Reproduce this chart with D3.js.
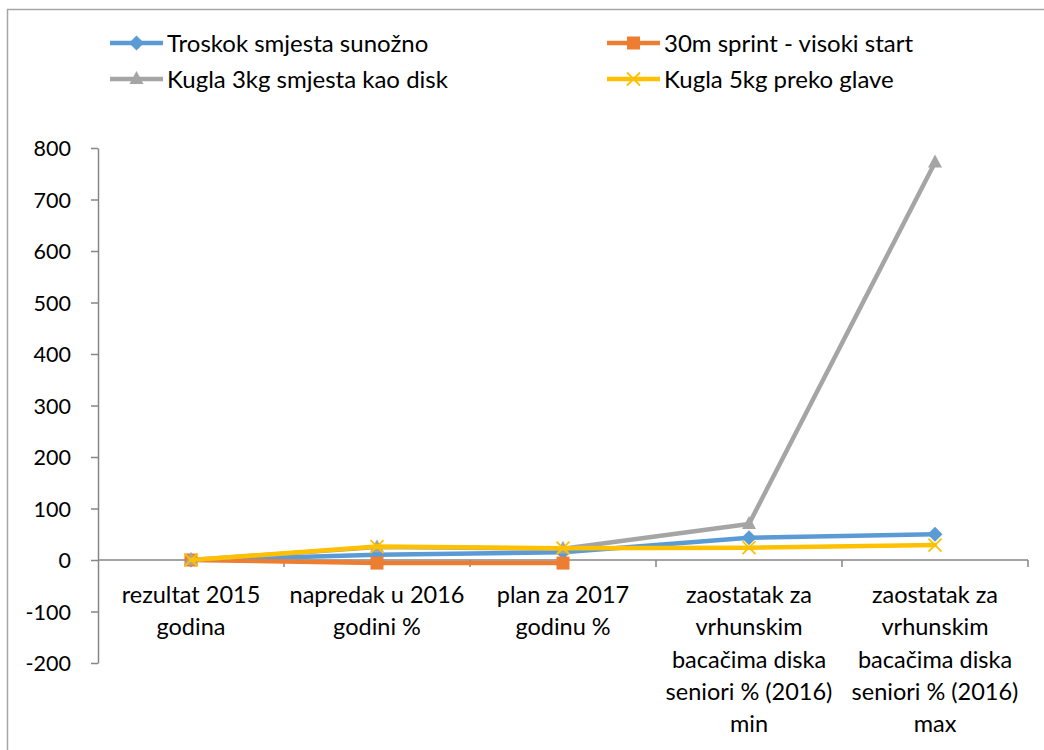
<!DOCTYPE html>
<html><head><meta charset="utf-8">
<script src="https://cdn.jsdelivr.net/npm/d3@7"></script>
<style>body{margin:0;background:#fff}svg{display:block}text{font-family:Lato,"Open Sans",sans-serif;fill:#000}</style>
</head><body>
<svg id="c" width="1044" height="750"></svg>
<script>
const categories = [
  ["rezultat 2015","godina"],
  ["napredak u 2016","godini %"],
  ["plan za 2017","godinu %"],
  ["zaostatak za","vrhunskim","bacačima diska","seniori % (2016)","min"],
  ["zaostatak za","vrhunskim","bacačima diska","seniori % (2016)","max"]
];
const seriesNames = ["Troskok smjesta sunožno","30m sprint - visoki start","Kugla 3kg smjesta kao disk","Kugla 5kg preko glave"];
const troskok = [0, 10, 15, 43, 50];
const sprint = [0, -6, -6, null, null];
const kugla3 = [0, 25, 22, 70, 772];
const kugla5 = [0, 26, 23, 24, 29];
const yTicks = [-200,-100,0,100,200,300,400,500,600,700,800];

const colors = ["#5b9bd5","#ed7d31","#a5a5a5","#ffc000"];
const symbols = ["diamond","square","triangle","x"];
const data = [troskok, sprint, kugla3, kugla5];

const svg = d3.select("#c");
svg.append("rect").attr("x",7.5).attr("y",9.5).attr("width",1100).attr("height",800)
  .attr("fill","none").attr("stroke","#a6a6a6").attr("stroke-width",1.5);

const x = d3.scaleBand().domain(d3.range(categories.length)).range([98,1028]);
const y = d3.scaleLinear().domain([-200,800]).range([663,148]);

// y axis
const yAxis = svg.append("g").attr("transform","translate(98,0)")
  .call(d3.axisLeft(y).tickValues(yTicks).tickFormat(d=>String(d)).tickSize(7).tickPadding(20).tickSizeOuter(0));
yAxis.select(".domain").attr("stroke","#868686").attr("stroke-width",1.5);
yAxis.selectAll(".tick line").attr("stroke","#868686").attr("stroke-width",1.5);
yAxis.selectAll(".tick text").attr("font-size",21.5).attr("font-family","Lato").attr("fill","#000").attr("dy","0.36em");

// x axis at zero
const xg = svg.append("g").attr("transform",`translate(0,${y(0)})`);
xg.append("line").attr("x1",98).attr("x2",1028).attr("stroke","#868686").attr("stroke-width",1.5);
const bounds = d3.range(categories.length+1).map(i => i < categories.length ? x(i) : x(i-1)+x.bandwidth());
xg.selectAll("line.t").data(bounds.slice(1)).join("line").attr("class","t")
  .attr("x1",d=>d).attr("x2",d=>d).attr("y1",0).attr("y2",7).attr("stroke","#868686").attr("stroke-width",1.5);

// category labels
categories.forEach((lines,i)=>{
  const t = svg.append("text").attr("text-anchor","middle").attr("font-size",23.5)
    .attr("x", x(i)+x.bandwidth()/2).attr("y", 603);
  lines.forEach((l,j)=> t.append("tspan").attr("x", x(i)+x.bandwidth()/2).attr("dy", j===0?0:32.3).text(l));
});

function marker(g, type, color, cx, cy){
  if(type==="diamond"){
    g.append("path").attr("d",`M${cx},${cy-7.5}L${cx+7.5},${cy}L${cx},${cy+7.5}L${cx-7.5},${cy}Z`).attr("fill",color);
  } else if(type==="square"){
    g.append("rect").attr("x",cx-6.5).attr("y",cy-6.5).attr("width",13).attr("height",13).attr("fill",color);
  } else if(type==="triangle"){
    g.append("path").attr("d",`M${cx},${cy-8}L${cx+7},${cy+5}L${cx-7},${cy+5}Z`).attr("fill",color);
  } else {
    g.append("path").attr("d",`M${cx-6.5},${cy-6.5}L${cx+6.5},${cy+6.5}M${cx+6.5},${cy-6.5}L${cx-6.5},${cy+6.5}`).attr("stroke",color).attr("stroke-width",1.8);
  }
}

const line = d3.line().defined(d=>d!=null).x((d,i)=>x(i)+x.bandwidth()/2).y(d=>y(d));
const plot = svg.append("g");
data.forEach((vals,s)=>{
  plot.append("path").attr("d", line(vals)).attr("fill","none").attr("stroke",colors[s])
    .attr("stroke-width",4.5).attr("stroke-linejoin","round").attr("stroke-linecap","round");
  vals.forEach((v,i)=>{ if(v!=null) marker(plot, symbols[s], colors[s], x(i)+x.bandwidth()/2, y(v)); });
});

// legend
const legPos = [[110,43],[607,43],[110,79],[607,79]];
seriesNames.forEach((n,s)=>{
  const [lx,ly] = legPos[s];
  const g = svg.append("g");
  g.append("line").attr("x1",lx).attr("x2",lx+53).attr("y1",ly).attr("y2",ly).attr("stroke",colors[s]).attr("stroke-width",4.5);
  marker(g, symbols[s], colors[s], lx+26.5, ly);
  g.append("text").attr("x",lx+57).attr("y",ly).attr("dy","0.36em").attr("font-size",24).text(n);
});
</script>
</body></html>
